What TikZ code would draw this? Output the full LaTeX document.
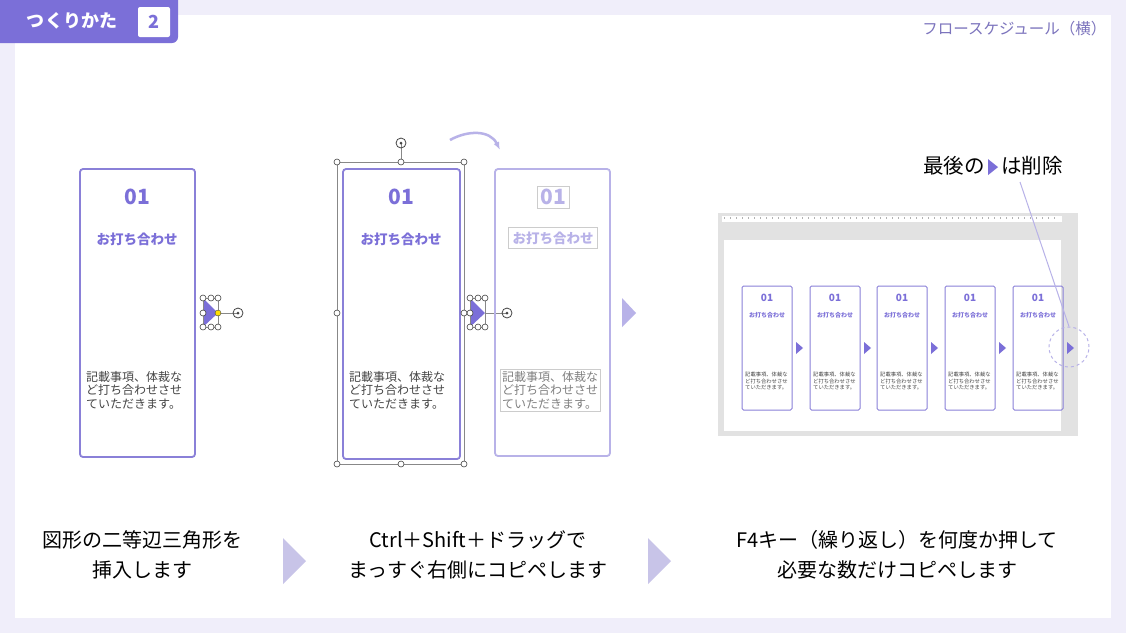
\documentclass[tikz,border=0pt]{standalone}
\usepackage{fontspec}
\usetikzlibrary{arrows.meta}
\setmainfont{Noto Sans CJK JP}
\newcommand\jpb{\bfseries}
\definecolor{bgl}{HTML}{F0EEFA}
\definecolor{pur}{HTML}{7B6FD8}
\definecolor{purl}{HTML}{B8B2E8}
\definecolor{purb}{HTML}{8A80D8}
\definecolor{tri}{HTML}{C8C4E8}
\definecolor{gtx}{HTML}{444444}
\definecolor{gscr}{HTML}{E2E2E2}
\definecolor{selg}{HTML}{888888}
\begin{document}
\begin{tikzpicture}[x=1pt,y=-1pt,
  card/.style={draw=purb,line width=1.8pt,rounded corners=3pt},
  num/.style={text=pur,font=\jpb\fontsize{21}{21}\selectfont},
  ttl/.style={text=pur,font=\jpb\fontsize{13.5}{13.5}\selectfont},
  body/.style={text=gtx,font=\fontsize{12}{13.5}\selectfont,align=left,anchor=north west,inner sep=0},
  hnd/.style={circle,draw=gtx,fill=white,line width=0.6pt,inner sep=0,minimum size=6pt},
  bot/.style={font=\fontsize{20}{30}\selectfont,align=center,text=black},
  btri/.style={fill=tri},
  mini/.style={draw=purb,line width=1pt,rounded corners=1.5pt}]
\fill[bgl] (0,0) rectangle (1126,633);
\fill[white] (15,15) rectangle (1111,618);
\useasboundingbox (0,0) rectangle (1126,633);
% header
\fill[pur,rounded corners=6pt] (-10,-10) rectangle (178,43);
\node[text=white,font=\jpb\fontsize{18}{18}\selectfont] (hd) at (72,21) {つくりかた};
\fill[white,rounded corners=2pt] (138,7) rectangle (170,37);
\node[text=pur,font=\jpb\fontsize{18}{18}\selectfont] (hn) at (154,22) {2};
\node[text=pur!70!gray,font=\fontsize{15.5}{15.5}\selectfont,anchor=east] (tr) at (1110,29) {フロースケジュール（横）};
% left card
\draw[card] (80,169) rectangle (195,457);
\node[num] (n1) at (137,197) {01};
\node[ttl] (t1) at (137,239) {お打ち合わせ};
\node[body] (b1) at (86,371) {記載事項、体裁な\\ど打ち合わせさせ\\ていただきます。};
\fill[pur] (203,298) -- (218,313) -- (203,327) -- cycle;
\draw[selg,line width=0.5pt] (203,298) rectangle (218,327);
\draw[selg] (218,313) -- (238,313);
\foreach \x/\y in {203/298,211/298,218/298,203/313,203/327,211/327,218/327} \node[hnd] at (\x,\y) {};
\node[circle,fill=yellow!80!orange,draw=gtx,line width=0.4pt,inner sep=0,minimum size=6pt] (yl) at (218,313) {};
\node[circle,draw=gtx,line width=0.8pt,inner sep=0,minimum size=10pt] (rot1) at (238,313) {};
\node[circle,fill=gtx,inner sep=0,minimum size=3pt] at (238,313) {};
% middle card
\draw[card] (343,169) rectangle (460,459);
\draw[selg,line width=0.6pt] (337,162) rectangle (464,464);
\draw[selg] (401,162) -- (401,143);
\foreach \x/\y in {337/162,401/162,464/162,337/313,464/313,337/464,401/464,464/464} \node[hnd] at (\x,\y) {};
\node[circle,draw=gtx,line width=0.8pt,inner sep=0,minimum size=10pt] (rot2) at (401,143) {};
\node[circle,fill=gtx,inner sep=0,minimum size=3pt] at (401,143) {};
\node[num] (n2) at (401,197) {01};
\node[ttl] (t2) at (401,239) {お打ち合わせ};
\node[body] (b2) at (349,371) {記載事項、体裁な\\ど打ち合わせさせ\\ていただきます。};
\fill[pur] (470,298) -- (485,313) -- (470,327) -- cycle;
\draw[selg,line width=0.5pt] (470,298) rectangle (485,327);
\draw[selg] (485,313) -- (507,313);
\foreach \x/\y in {470/298,478/298,485/298,470/313,470/327,478/327,485/327} \node[hnd] at (\x,\y) {};
\node[circle,draw=gtx,line width=0.8pt,inner sep=0,minimum size=10pt] (rot3) at (507,313) {};
\node[circle,fill=gtx,inner sep=0,minimum size=3pt] at (507,313) {};
% copy
\draw[card,draw=purl] (495,169) rectangle (610,456);
\node[num,text=purl,draw=gray!40,inner sep=3pt] (n3) at (553,197) {01};
\node[ttl,text=purl,draw=gray!40,inner sep=4pt] (t3) at (553,238) {お打ち合わせ};
\node[body,text=gray,draw=gray!40,inner sep=2pt] (b3) at (500,369) {記載事項、体裁な\\ど打ち合わせさせ\\ていただきます。};
\fill[purl] (622,298) -- (636,313) -- (622,327) -- cycle;
\coordinate (ca) at (450,140); \coordinate (cb) at (500,150);
\draw[purl,line width=2.5pt,-{Latex[length=8pt]}] (ca) .. controls (468,130) and (490,130) .. (cb);
% right screenshot
\fill[gscr] (718,213) rectangle (1078,436);
\fill[white] (722,216) rectangle (1062,222);
\foreach \i in {0,...,55} \draw[gray!60,line width=0.3pt] (724+\i*6,217) -- (724+\i*6,219);
\fill[white] (724,240) rectangle (1061,431);
\foreach \x [count=\k] in {742,810,877,945,1013} {
  \draw[mini] (\x,286) rectangle (\x+50,410);
  \node[text=pur,font=\jpb\fontsize{10}{10}\selectfont] (mn\k) at (\x+25,298) {01};
  \node[text=pur,font=\jpb\fontsize{6}{6}\selectfont] (mt\k) at (\x+25,315) {お打ち合わせ};
  \node[text=gtx,font=\fontsize{5.3}{6.5}\selectfont,align=left,anchor=north west,inner sep=0] (mb\k) at (\x+3,372) {記載事項、体裁な\\ど打ち合わせさせ\\ていただきます。};
  \fill[pur] (\x+54,342) -- (\x+61,348) -- (\x+54,354) -- cycle;
}
\node[circle,draw=purl,dashed,line width=1pt,minimum size=40pt,inner sep=0] (dc) at (1069,347) {};
\node[font=\fontsize{20.5}{20.5}\selectfont] (lab) at (993,166) {最後の\,\tikz[baseline=-0.6ex]\fill[pur] (0,-8) -- (10,0) -- (0,8) -- cycle;\,は削除};
\coordinate (lp) at (1020,182);
\draw[purl,line width=1pt] (lp) -- (dc.north);
% bottom
\node[bot] (bt1) at (142,555) {図形の二等辺三角形を\\挿入します};
\node[bot] (bt2) at (478,555) {Ctrl＋Shift＋ドラッグで\\まっすぐ右側にコピペします};
\node[bot] (bt3) at (897,555) {F4キー（繰り返し）を何度か押して\\必要な数だけコピペします};
\fill[btri] (283,538) -- (306,561) -- (283,584) -- cycle;
\fill[btri] (648,538) -- (671,561) -- (648,584) -- cycle;
\end{tikzpicture}
\end{document}
